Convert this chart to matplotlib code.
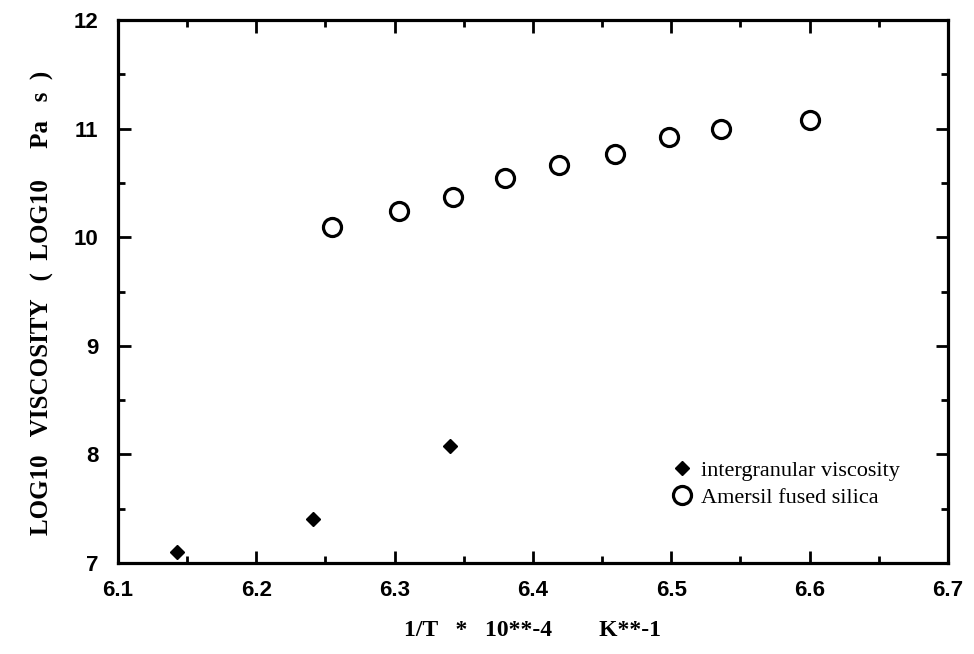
import numpy as np
import matplotlib
matplotlib.use("Agg")
import matplotlib.pyplot as plt
from matplotlib.ticker import MultipleLocator

# intergranular viscosity (filled diamonds)
x_inter = [6.143, 6.241, 6.340]
y_inter = [7.10, 7.41, 8.08]

# Amersil fused silica (open circles)
x_silica = [6.255, 6.303, 6.342, 6.380, 6.419, 6.459, 6.498, 6.536, 6.600]
y_silica = [10.09, 10.24, 10.37, 10.545, 10.665, 10.77, 10.92, 11.00, 11.08]

fig = plt.figure(figsize=(9.74, 6.54), dpi=100)
ax = fig.add_axes([0.1211, 0.1391, 0.8522, 0.8303])

ax.plot(x_inter, y_inter, linestyle="none", marker="D", markersize=7.5,
        color="black", label="intergranular viscosity")
ax.plot(x_silica, y_silica, linestyle="none", marker="o", markersize=13,
        markerfacecolor="white", markeredgecolor="black", markeredgewidth=2.3,
        label="Amersil fused silica")

ax.set_xlim(6.1, 6.7)
ax.set_ylim(7, 12)
ax.xaxis.set_major_locator(MultipleLocator(0.1))
ax.xaxis.set_minor_locator(MultipleLocator(0.05))
ax.yaxis.set_major_locator(MultipleLocator(1))
ax.yaxis.set_minor_locator(MultipleLocator(0.5))
ax.tick_params(which="both", direction="in", top=True, right=True, width=2)
ax.tick_params(which="major", length=9)
ax.tick_params(axis="x", which="major", pad=12)
ax.tick_params(axis="y", which="major", pad=14)
ax.tick_params(which="minor", length=5)
for s in ax.spines.values():
    s.set_linewidth(2.3)

for lab in ax.get_xticklabels() + ax.get_yticklabels():
    lab.set_fontfamily("Liberation Sans")
    lab.set_fontweight("bold")
    lab.set_fontsize(16)

ax.set_xlabel("1/T   *   10**-4        K**-1", family="Liberation Serif",
              fontweight="bold", fontsize=17, labelpad=14)
ax.set_ylabel("LOG10   VISCOSITY   (  LOG10     Pa   s  )",
              family="Liberation Serif", fontweight="bold", fontsize=18)
ax.yaxis.set_label_coords(-0.077, 0.48)

leg = ax.legend(loc="upper left", bbox_to_anchor=(0.653, 0.21), frameon=False,
                prop={"family": "Liberation Serif", "size": 16},
                handletextpad=0.35, labelspacing=0.3, handlelength=1.0,
                borderpad=0)

fig.savefig("out.png", dpi=100)
